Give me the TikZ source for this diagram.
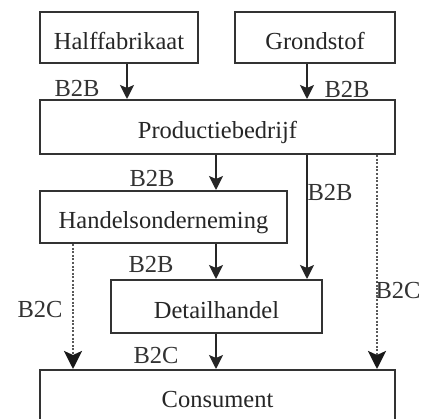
\documentclass[tikz,border=0pt]{standalone}
\usepackage{fontspec}
\setmainfont{Liberation Serif}
\usetikzlibrary{arrows.meta}
\begin{document}
\begin{tikzpicture}[x=1pt,y=-1pt,
  box/.style={draw=black!80, line width=2pt, rectangle, inner sep=0pt,
    text height=24pt, text depth=0pt, font=\fontsize{24.5}{28}\selectfont, text=black!85},
  lbl/.style={inner sep=0pt, font=\fontsize{24.5}{28}\selectfont, text=black!80},
  arr/.style={line width=1.6pt, draw=black!85, -{Stealth[length=14pt,width=14pt,inset=3pt]}},
  dotarr/.style={line width=2.6pt, draw=black!65, dash pattern=on 2pt off 1.6pt,
    -{Stealth[length=18pt,width=18pt,inset=4pt,color=black!90]}}]
\useasboundingbox (0,0) rectangle (426,419);
\clip (0,0) rectangle (426,419);
\fill[white] (0,0) rectangle (426,419);
% boxes
\node[box, minimum width=158pt, minimum height=51pt] (half) at (119,37.5) {Halffabrikaat};
\node[box, minimum width=160pt, minimum height=51pt] (grond) at (315,37.5) {Grondstof};
\node[box, minimum width=355pt, minimum height=54pt] (prod) at (217.5,127) {Productiebedrijf};
\node[box, minimum width=247pt, minimum height=52pt] (handel) at (163.5,217) {Handelsonderneming};
\node[box, minimum width=211pt, minimum height=53pt] (detail) at (216.5,306.5) {Detailhandel};
\node[box, minimum width=355pt, minimum height=52pt] (cons) at (217.5,396) {Consument};
% columns
\coordinate (c1) at (127,0);
\coordinate (c2) at (307,0);
\coordinate (c3) at (216,0);
\coordinate (c4) at (377,0);
\coordinate (c5) at (73,0);
% connectors
\draw[arr] (half.south -| c1) -- (prod.north -| c1);
\draw[arr] (grond.south -| c2) -- (prod.north -| c2);
\draw[arr] (prod.south -| c3) -- (handel.north -| c3);
\draw[arr] (prod.south -| c2) -- (detail.north -| c2);
\draw[dotarr] (prod.south -| c4) -- (cons.north -| c4);
\draw[arr] (handel.south -| c3) -- (detail.north -| c3);
\draw[dotarr] (handel.south -| c5) -- (cons.north -| c5);
\draw[arr] (detail.south -| c3) -- (cons.north -| c3);
% labels
\node[lbl] (l1) at (77,88) {B2B};
\node[lbl] (l2) at (347,89) {B2B};
\node[lbl] (l3) at (152,178) {B2B};
\node[lbl] (l4) at (330,192) {B2B};
\node[lbl] (l5) at (151,264) {B2B};
\node[lbl] (l6) at (40,310) {B2C};
\node[lbl] (l7) at (398,291) {B2C};
\node[lbl] (l8) at (156,356) {B2C};
\end{tikzpicture}
\end{document}
